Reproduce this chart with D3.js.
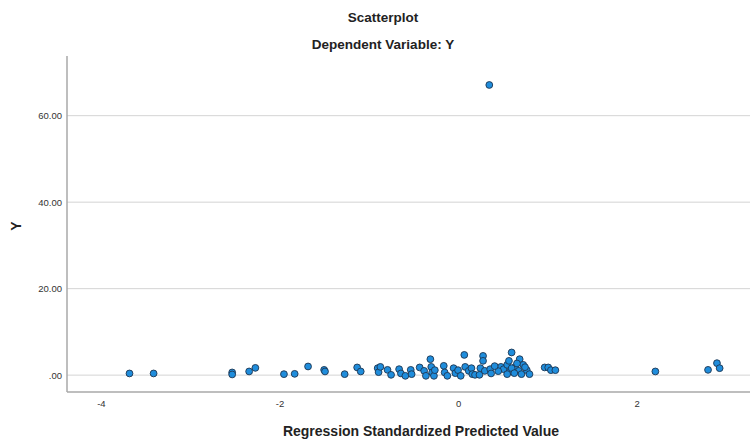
<!DOCTYPE html>
<html>
<head>
<meta charset="utf-8">
<script src="https://cdn.jsdelivr.net/npm/d3@7"></script>
<style>
  html, body { margin: 0; padding: 0; background: #fff; }
  svg { display: block; font-family: "Liberation Sans", Arial, sans-serif; }
</style>
</head>
<body>
<svg id="chart" width="750" height="441"></svg>
<script>
// Regression standardized predicted values (x) and observed Y (y)
const xValues = [
  -3.68, -3.41, -2.53, -2.53, -2.34, -2.27, -1.95, -1.83, -1.68,
  -1.50, -1.49, -1.27, -1.13, -1.09, -0.90, -0.89, -0.87, -0.79,
  -0.75, -0.66, -0.64, -0.59, -0.53, -0.52, -0.43, -0.38, -0.36,
  -0.31, -0.30, -0.29, -0.27, -0.26, -0.16, -0.15, -0.12, -0.05,
  -0.03, 0.00, 0.03, 0.07, 0.08, 0.12, 0.15, 0.16,
  0.19, 0.25, 0.24, 0.28, 0.28, 0.30, 0.36, 0.37, 0.48, 0.51,
  0.55, 0.57, 0.60, 0.58, 0.55, 0.64, 0.69, 0.68, 0.71, 0.73,
  0.77, 0.80, 0.66, 0.60, 0.63, 0.75, 0.45, 0.41,
  0.97, 1.01, 1.04, 1.09, 2.21, 2.80, 2.90, 2.93, 0.35
];
const yValues = [
  0.39, 0.39, 0.62, 0.16, 0.85, 1.68, 0.23, 0.30, 2.00,
  1.22, 0.85, 0.23, 1.78, 0.85, 1.61, 0.69, 1.91, 1.22,
  0.07, 1.38, 0.39, -0.16, 1.22, 0.23, 1.78, 0.99, -0.16,
  3.69, 1.91, 0.62, -0.16, 1.15, 2.15, 0.62, -0.16, 1.61,
  0.46, 1.15, -0.16, 4.68, 1.91, 0.99, 1.61, 0.23,
  0.07, 1.61, 0.07, 4.45, 3.30, 0.99, 1.38, 0.39, 1.91, 1.38,
  2.38, 3.30, 5.24, 0.85, 0.23, 1.91, 3.69, 0.99, 0.23, 2.38,
  1.15, 0.23, 2.70, 1.61, 0.46, 1.84, 0.92, 2.08,
  1.78, 1.78, 1.15, 1.15, 0.85, 1.22, 2.77, 1.61, 67.1
];
const xTicks = [-4, -2, 0, 2];
const xTickLabels = ["-4", "-2", "0", "2"];
const yTicks = [0, 20, 40, 60];
const yTickLabels = [".00", "20.00", "40.00", "60.00"];

const titleText = "Scatterplot";
const subtitleText = "Dependent Variable: Y";
const xLabelText = "Regression Standardized Predicted Value";
const yLabelText = "Y";

(function () {
const svg = d3.select("#chart");
const pLeft = 67, pRight = 750, pTop = 56, pBottom = 392;

const x = d3.scaleLinear().domain([-4.38, 3.27]).range([pLeft, pRight]);
const y = d3.scaleLinear().domain([-3.9, 73.8]).range([pBottom, pTop]);

// gridlines
svg.append("g")
  .selectAll("line").data(yTicks).join("line")
  .attr("x1", pLeft).attr("x2", pRight)
  .attr("y1", d => y(d)).attr("y2", d => y(d))
  .attr("stroke", "#d4d4d4").attr("stroke-width", 1);

// y axis
const yAxis = d3.axisLeft(y).tickValues(yTicks)
  .tickFormat((d, i) => yTickLabels[i]).tickSize(0).tickPadding(5);
const gy = svg.append("g").attr("transform", `translate(${pLeft},0)`).call(yAxis);
gy.select(".domain").remove();
gy.selectAll("text").attr("font-size", 9.5).attr("fill", "#333")
  .attr("font-family", "Liberation Sans, Arial, sans-serif");

// x axis
const xAxis = d3.axisBottom(x).tickValues(xTicks)
  .tickFormat((d, i) => xTickLabels[i]).tickSize(0).tickPadding(8);
const gx = svg.append("g").attr("transform", `translate(0,${pBottom})`).call(xAxis);
gx.select(".domain").remove();
gx.selectAll("text").attr("font-size", 9.5).attr("fill", "#333")
  .attr("font-family", "Liberation Sans, Arial, sans-serif");

// axis lines
svg.append("line").attr("x1", pLeft).attr("x2", pLeft).attr("y1", pTop).attr("y2", pBottom)
  .attr("stroke", "#a8a8a8").attr("stroke-width", 1.5);
svg.append("line").attr("x1", pLeft).attr("x2", pRight).attr("y1", pBottom).attr("y2", pBottom)
  .attr("stroke", "#a8a8a8").attr("stroke-width", 1.5);

// points
const pts = xValues.map((v, i) => ({ x: v, y: yValues[i] }));
svg.append("g").selectAll("circle").data(pts).join("circle")
  .attr("cx", d => x(d.x)).attr("cy", d => y(d.y)).attr("r", 3.4)
  .attr("fill", "#1f8ddc").attr("stroke", "#1e3550").attr("stroke-width", 0.9);

// titles
svg.append("text").attr("x", 383).attr("y", 22).attr("text-anchor", "middle")
  .attr("font-size", 13.5).attr("font-weight", "bold").attr("fill", "#222").text(titleText);
svg.append("text").attr("x", 383).attr("y", 49).attr("text-anchor", "middle")
  .attr("font-size", 13.5).attr("font-weight", "bold").attr("fill", "#222").text(subtitleText);

// axis titles
svg.append("text").attr("x", 421).attr("y", 436).attr("text-anchor", "middle")
  .attr("font-size", 14).attr("font-weight", "bold").attr("fill", "#222").text(xLabelText);
svg.append("text").attr("transform", "translate(21,226) rotate(-90)").attr("text-anchor", "middle")
  .attr("font-size", 14).attr("font-weight", "bold").attr("fill", "#222").text(yLabelText);
})();
</script>
</body>
</html>
